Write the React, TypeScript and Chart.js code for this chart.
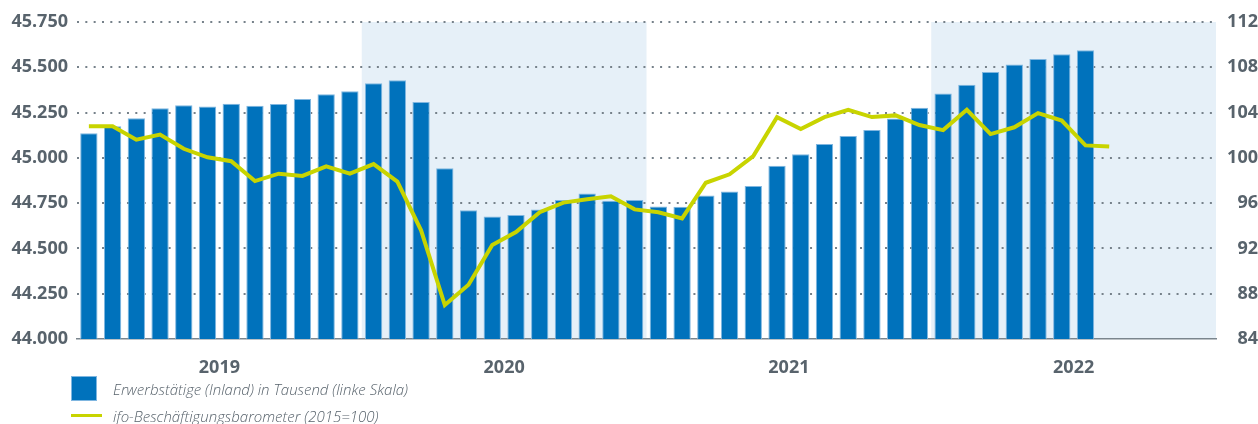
import React, { useEffect, useRef } from "react";
import { Chart, registerables } from "chart.js";

Chart.register(...registerables);

const years = ["2019", "2020", "2021", "2022"];
const shadedYears = ["2020", "2022"];
const months = ["Jan", "Feb", "Mär", "Apr", "Mai", "Jun", "Jul", "Aug", "Sep", "Okt", "Nov", "Dez"];
const monthLabels = years.flatMap((y) => months.map((m) => `${m} ${y}`));

// Erwerbstätige (Inland) in Tausend, Jan 2019 – Jul 2022
const employed = [
  45136, 45175, 45219, 45274, 45290, 45283, 45299, 45288, 45298, 45325, 45351, 45368,
  45412, 45428, 45309, 44943, 44711, 44676, 44685, 44715, 44768, 44803, 44763, 44768,
  44731, 44730, 44792, 44814, 44845, 44957, 45020, 45077, 45121, 45154, 45217, 45276,
  45355, 45403, 45474, 45515, 45546, 45572, 45594,
];

// ifo-Beschäftigungsbarometer (2015=100), Jan 2019 – Aug 2022
const ifoBarometer = [
  102.8, 102.8, 101.6, 102.05, 100.8, 100.05, 99.7, 97.95, 98.6, 98.4, 99.25, 98.6,
  99.45, 97.9, 93.6, 87.0, 88.8, 92.3, 93.45, 95.2, 96.05, 96.35, 96.6, 95.45,
  95.2, 94.65, 97.8, 98.55, 100.15, 103.6, 102.55, 103.6, 104.25, 103.6, 103.75, 102.9,
  102.45, 104.25, 102.1, 102.7, 103.95, 103.3, 101.1, 101.0,
];

const leftTicks = { min: 44000, max: 45750, step: 250 };
const rightTicks = { min: 84, max: 112, step: 4 };

const TEXT = "#58636c";
const BAR = "#0072bc";
const LINE = "#c8d400";
const SHADE = "#e6f0f8";
const FONT = "'Open Sans', 'Noto Sans', sans-serif";

const fmtThousand = (v: number) => {
  const t = Math.floor(v / 1000);
  const r = Math.round(v % 1000);
  return `${t}.${String(r).padStart(3, "0")}`;
};

const shadePlugin = {
  id: "shadeYears",
  beforeDraw(chart: any) {
    const { ctx, chartArea, scales } = chart;
    const x = scales.x;
    const step = x.getPixelForValue(1) - x.getPixelForValue(0);
    ctx.save();
    ctx.fillStyle = SHADE;
    shadedYears.forEach((yr) => {
      const yi = years.indexOf(yr);
      const start = yi * 12;
      const left = x.getPixelForValue(start) - step / 2;
      const right = Math.min(x.getPixelForValue(start + 11) + step / 2, chartArea.right);
      ctx.fillRect(left, chartArea.top, right - left, chartArea.bottom - chartArea.top);
    });
    ctx.restore();
  },
};

export default function App() {
  const ref = useRef<HTMLCanvasElement | null>(null);

  useEffect(() => {
    if (!ref.current) return;
    const chart = new Chart(ref.current, {
      type: "bar",
      data: {
        labels: monthLabels,
        datasets: [
          {
            type: "line",
            label: "ifo-Beschäftigungsbarometer (2015=100)",
            data: ifoBarometer,
            yAxisID: "y2",
            xAxisID: "x",
            borderColor: LINE,
            backgroundColor: LINE,
            borderWidth: 4,
            pointRadius: 0,
            tension: 0,
            order: 0,
          } as any,
          {
            type: "bar",
            label: "Erwerbstätige (Inland) in Tausend (linke Skala)",
            data: employed,
            yAxisID: "y",
            xAxisID: "x",
            backgroundColor: BAR,
            borderColor: "#7fb6e0",
            borderWidth: { top: 1, left: 1, right: 1, bottom: 0 },
            borderSkipped: false,
            categoryPercentage: 1,
            barPercentage: 0.73,
            order: 1,
          } as any,
        ],
      },
      options: {
        responsive: false,
        animation: false,
        layout: { padding: { top: 22, bottom: 0, left: 0, right: 0 } },
        plugins: {
          legend: { display: false },
          tooltip: { enabled: false },
        },
        scales: {
          x: {
            type: "category",
            position: "bottom",
            offset: true,
            grid: { display: false },
            ticks: { display: false },
            border: { display: true, color: "#7a858d", width: 1.5 },
            afterFit: (s: any) => {
              s.height = 0;
            },
          },
          x2: {
            type: "category",
            position: "bottom",
            labels: years,
            offset: true,
            grid: { display: false },
            border: { display: false },
            ticks: {
              color: TEXT,
              font: { family: FONT, size: 18, weight: "bold" },
              padding: 10,
              maxRotation: 0,
            },
            afterFit: (s: any) => {
              s.height = 41;
            },
          },
          y: {
            position: "left",
            min: leftTicks.min,
            max: leftTicks.max,
            ticks: {
              stepSize: leftTicks.step,
              color: TEXT,
              font: { family: FONT, size: 18, weight: "bold" },
              padding: 9,
              callback: (v: any) => fmtThousand(Number(v)),
            },
            grid: {
              drawTicks: false,
              lineWidth: 2,
              color: (c: any) => (c.tick && c.tick.value === leftTicks.min ? "rgba(0,0,0,0)" : "#76818a"),
            },
            border: { display: false, dash: [2, 6.33] },
            afterFit: (s: any) => {
              s.width = 77;
            },
          },
          y2: {
            position: "right",
            min: rightTicks.min,
            max: rightTicks.max,
            ticks: {
              stepSize: rightTicks.step,
              color: TEXT,
              font: { family: FONT, size: 18, weight: "bold" },
              padding: 9,
              crossAlign: "far",
            },
            grid: { display: false, drawTicks: false },
            border: { display: false },
            afterFit: (s: any) => {
              s.width = 42;
            },
          },
        },
      } as any,
      plugins: [shadePlugin],
    });
    return () => chart.destroy();
  }, []);

  const legendText: React.CSSProperties = {
    position: "absolute",
    left: 113,
    fontFamily: FONT,
    fontStyle: "italic",
    fontWeight: 300,
    fontSize: 15,
    color: TEXT,
    lineHeight: "20px",
    whiteSpace: "nowrap",
  };

  return (
    <div style={{ position: "absolute", left: 0, top: 0, width: 1258, height: 424, background: "#fff", overflow: "hidden" }}>
      <canvas ref={ref} width={1258} height={380} style={{ position: "absolute", left: 0, top: 0, width: 1258, height: 380 }} />
      <div style={{ position: "absolute", left: 71, top: 376, width: 26, height: 25, background: BAR, border: "1px solid #7fb6e0", boxSizing: "border-box" }} />
      <div style={{ ...legendText, top: 379 }}>Erwerbstätige (Inland) in Tausend (linke Skala)</div>
      <div style={{ position: "absolute", left: 71, top: 414, width: 31, height: 3, background: LINE }} />
      <div style={{ ...legendText, top: 406 }}>ifo-Beschäftigungsbarometer (2015=100)</div>
    </div>
  );
}
